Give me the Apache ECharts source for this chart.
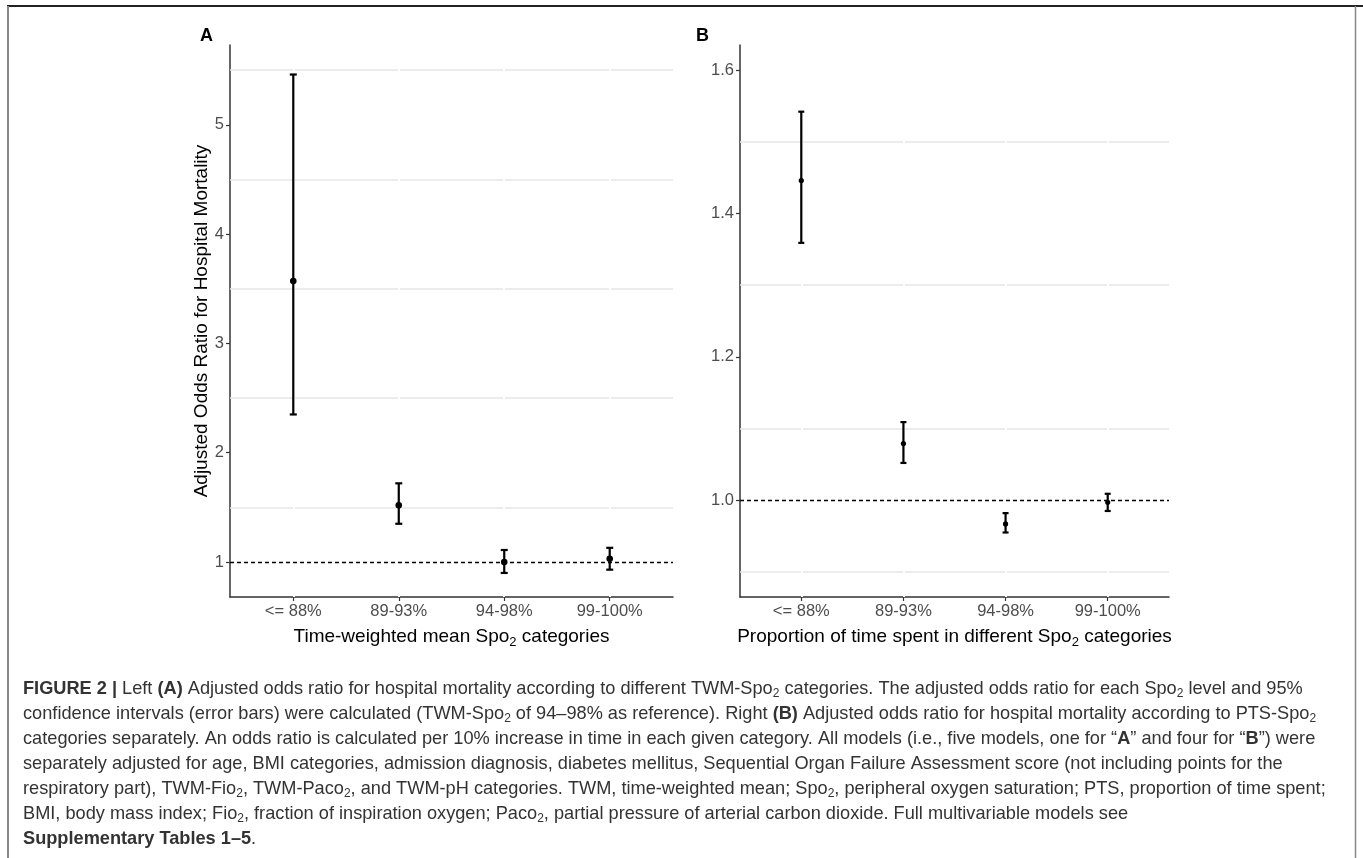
<!DOCTYPE html>
<html><head><meta charset="utf-8">
<script src="https://cdn.jsdelivr.net/npm/echarts@6/dist/echarts.min.js"></script>
<style>html,body{margin:0;padding:0;background:#fff}#c{width:1363px;height:858px}</style>
</head><body><div id="c"></div>
<script>
// ---- data ----
const categories = ['<= 88%', '89-93%', '94-98%', '99-100%'];
const estA  = [3.57, 1.52, 1.00, 1.03];
const lowA  = [2.35, 1.35, 0.90, 0.93];
const highA = [5.46, 1.72, 1.11, 1.13];
const estB  = [1.446, 1.079, 0.967, 0.997];
const lowB  = [1.359, 1.052, 0.955, 0.985];
const highB = [1.542, 1.109, 0.982, 1.009];
const ticksA = [1, 2, 3, 4, 5];
const minorA = [1.5, 2.5, 3.5, 4.5, 5.5];
const ticksB = [1.0, 1.2, 1.4, 1.6];
const minorB = [0.9, 1.1, 1.3, 1.5];
const refValue = 1;
const catIdx = categories.map((c, i) => i);

const FONT = "'Liberation Sans', Arial, sans-serif";
const CAPFONT = "'Liberation Sans', Arial, sans-serif";

function errRender(capHalf, r) {
  return function (params, api) {
    const x = api.value(0), lo = api.value(1), hi = api.value(2), est = api.value(3);
    const pLo = api.coord([x, lo]), pHi = api.coord([x, hi]), pE = api.coord([x, est]);
    const st = { stroke: '#000', lineWidth: 2.2 };
    return { type: 'group', children: [
      { type: 'line', shape: { x1: pLo[0], y1: pLo[1], x2: pHi[0], y2: pHi[1] }, style: st },
      { type: 'line', shape: { x1: pLo[0] - capHalf, y1: pLo[1], x2: pLo[0] + capHalf, y2: pLo[1] }, style: st },
      { type: 'line', shape: { x1: pHi[0] - capHalf, y1: pHi[1], x2: pHi[0] + capHalf, y2: pHi[1] }, style: st },
      { type: 'circle', shape: { cx: pE[0], cy: pE[1], r: r }, style: { fill: '#000' } }
    ]};
  };
}

const subRich = { s: { fontSize: 13, verticalAlign: 'bottom', lineHeight: 24, fontFamily: FONT, color: '#000' } };

function xAxisCfg(gi, name) {
  return {
    gridIndex: gi, type: 'value', min: -0.6, max: 3.6,
    axisLine: { show: true, onZero: false, lineStyle: { color: '#333', width: 1.5 } },
    axisTick: { show: true, customValues: catIdx, length: 4, lineStyle: { color: '#333', width: 1.2 } },
    axisLabel: { customValues: catIdx, formatter: v => categories[Math.round(v)], color: '#4d4d4d', fontSize: 16.5, fontFamily: FONT, margin: 6 },
    splitLine: { show: false },
    name: name, nameLocation: 'middle', nameGap: 23,
    nameTextStyle: { color: '#000', fontSize: 19, fontFamily: FONT, lineHeight: 24, rich: subRich }
  };
}
function yAxisCfg(gi, min, max, ticks, fmt, name) {
  return {
    gridIndex: gi, type: 'value', min: min, max: max,
    axisLine: { show: true, onZero: false, lineStyle: { color: '#333', width: 1.5 } },
    axisTick: { show: true, customValues: ticks, length: 4, lineStyle: { color: '#333', width: 1.2 } },
    axisLabel: { customValues: ticks, formatter: fmt, color: '#4d4d4d', fontSize: 16.5, fontFamily: FONT, margin: 6 },
    splitLine: { show: false },
    name: name || '', nameLocation: 'middle', nameGap: 19,
    nameTextStyle: { color: '#000', fontSize: 19, fontFamily: FONT }
  };
}
function gridLines(gi, minor) {
  return {
    type: 'line', xAxisIndex: gi, yAxisIndex: gi, data: [], z: 1, silent: true,
    markLine: {
      silent: true, symbol: 'none', animation: false, label: { show: false },
      emphasis: { disabled: true },
      data: minor.map(v => ({ yAxis: v, lineStyle: { color: '#e6e6e6', width: 1.5, type: 'solid' } }))
        .concat(catIdx.map(v => ({ xAxis: v, lineStyle: { color: '#ffffff', width: 2, type: 'solid' } })))
    }
  };
}
function refLine(gi) {
  return {
    type: 'line', xAxisIndex: gi, yAxisIndex: gi, data: [], z: 3, silent: true,
    markLine: {
      silent: true, symbol: 'none', animation: false, label: { show: false },
      emphasis: { disabled: true },
      data: [{ yAxis: refValue, lineStyle: { color: '#000', width: 1.3, type: [4, 3] } }]
    }
  };
}
function errSeries(gi, lo, hi, est, cap, r) {
  return {
    type: 'custom', xAxisIndex: gi, yAxisIndex: gi, z: 5, silent: true,
    renderItem: errRender(cap, r),
    encode: { x: 0, y: [1, 2, 3] },
    data: catIdx.map(i => [i, lo[i], hi[i], est[i]])
  };
}

const captionLines = [
  "{b|FIGURE 2 |} Left {b|(A)} Adjusted odds ratio for hospital mortality according to different TWM-Spo{s|2} categories. The adjusted odds ratio for each Spo{s|2} level and 95%",
  "confidence intervals (error bars) were calculated (TWM-Spo{s|2} of 94–98% as reference). Right {b|(B)} Adjusted odds ratio for hospital mortality according to PTS-Spo{s|2}",
  "categories separately. An odds ratio is calculated per 10% increase in time in each given category. All models (i.e., five models, one for “{b|A}” and four for “{b|B}”) were",
  "separately adjusted for age, BMI categories, admission diagnosis, diabetes mellitus, Sequential Organ Failure Assessment score (not including points for the",
  "respiratory part), TWM-Fio{s|2}, TWM-Paco{s|2}, and TWM-pH categories. TWM, time-weighted mean; Spo{s|2}, peripheral oxygen saturation; PTS, proportion of time spent;",
  "BMI, body mass index; Fio{s|2}, fraction of inspiration oxygen; Paco{s|2}, partial pressure of arterial carbon dioxide. Full multivariable models see",
  "{b|Supplementary Tables 1–5}."
];
const capSize = 18.2;
const captionGraphics = captionLines.map((t, k) => ({
  type: 'text', left: 23, top: 678 + 25 * k, silent: true,
  style: {
    text: t, fill: '#333', font: capSize + 'px ' + CAPFONT, lineHeight: 22,
    rich: {
      b: { fontWeight: 'bold', fontSize: capSize, fontFamily: CAPFONT, color: '#111', lineHeight: 22 },
      s: { fontSize: 12, fontFamily: CAPFONT, color: '#333', verticalAlign: 'bottom', lineHeight: 22 }
    }
  }
}));

const chart = echarts.init(document.getElementById('c'), null, { renderer: 'canvas' });
chart.setOption({
  animation: false,
  backgroundColor: '#fff',
  grid: [
    { left: 230, right: 690, top: 45, bottom: 261 },
    { left: 740, right: 194, top: 45, bottom: 261 }
  ],
  xAxis: [
    xAxisCfg(0, 'Time-weighted mean Spo{s|2} categories'),
    xAxisCfg(1, 'Proportion of time spent in different Spo{s|2} categories')
  ],
  yAxis: [
    yAxisCfg(0, 0.68, 5.73, ticksA, v => String(v), 'Adjusted Odds Ratio for Hospital Mortality'),
    yAxisCfg(1, 0.865, 1.635, ticksB, v => v.toFixed(1), '')
  ],
  series: [
    gridLines(0, minorA), refLine(0), errSeries(0, lowA, highA, estA, 3.5, 3.3),
    gridLines(1, minorB), refLine(1), errSeries(1, lowB, highB, estB, 3, 2.6)
  ],
  graphic: [
    { type: 'line', silent: true, shape: { x1: 7, y1: 6, x2: 1363, y2: 6 }, style: { stroke: '#222', lineWidth: 2 } },
    { type: 'line', silent: true, shape: { x1: 8, y1: 6, x2: 8, y2: 858 }, style: { stroke: '#888', lineWidth: 2 } },
    { type: 'line', silent: true, shape: { x1: 1355.5, y1: 6, x2: 1355.5, y2: 858 }, style: { stroke: '#888', lineWidth: 1.5 } },
    { type: 'text', left: 200, top: 27, silent: true, style: { text: 'A', font: 'bold 18px ' + FONT, fill: '#000' } },
    { type: 'text', left: 696, top: 27, silent: true, style: { text: 'B', font: 'bold 18px ' + FONT, fill: '#000' } }
  ].concat(captionGraphics)
});
</script>
</body></html>
